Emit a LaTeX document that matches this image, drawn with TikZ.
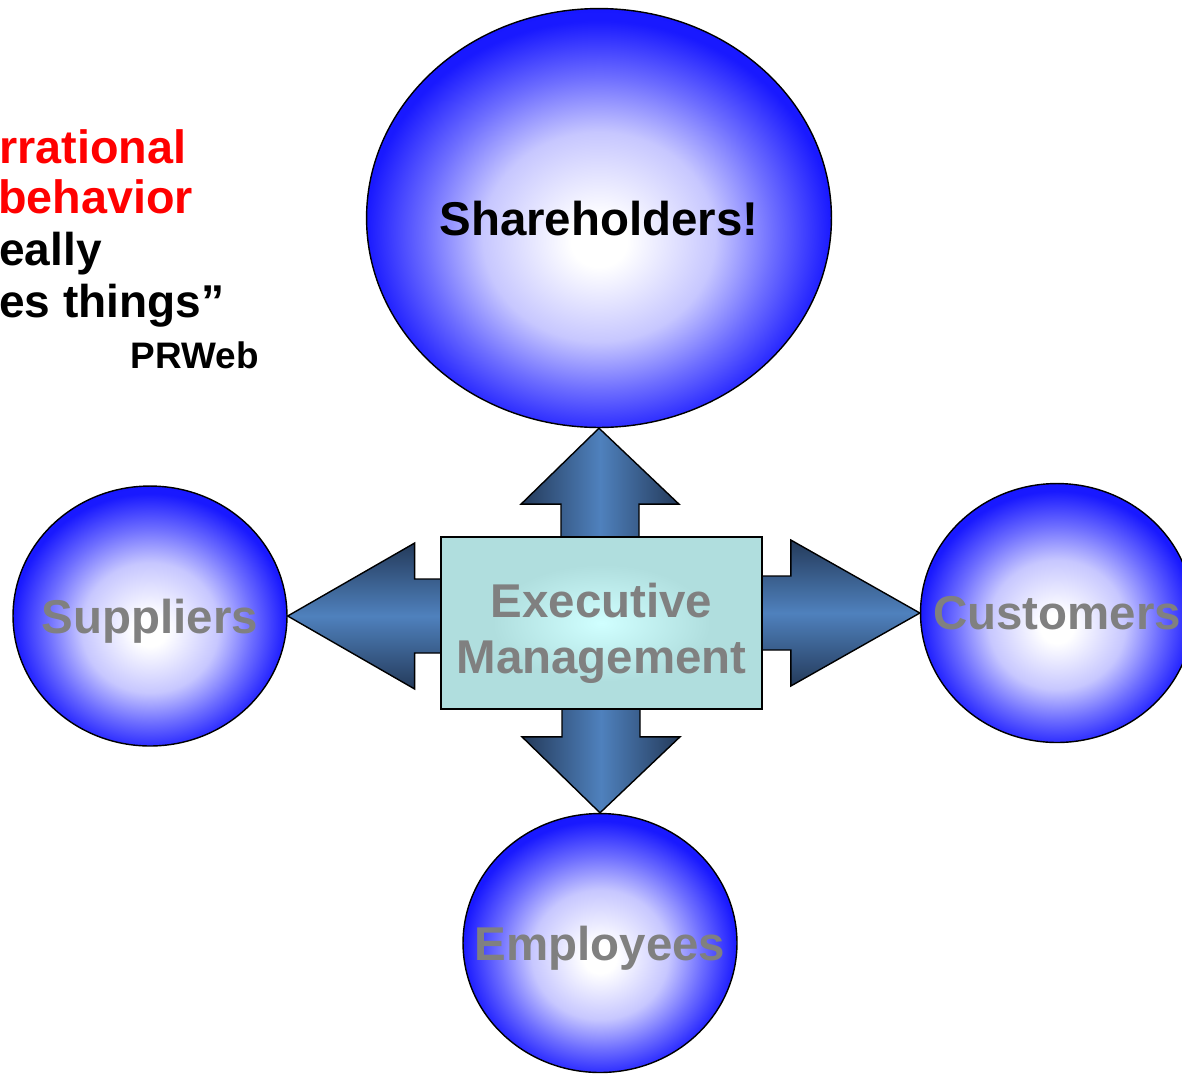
\documentclass[tikz,border=0pt]{standalone}
\usepackage{fontspec}
\setmainfont{Liberation Sans}
\usepackage{tikz}
\usetikzlibrary{shapes.geometric}

\definecolor{arrowdark}{RGB}{36,58,90}
\definecolor{arrowmid}{RGB}{79,129,189}
\definecolor{boxin}{RGB}{208,255,255}
\definecolor{boxout}{RGB}{176,222,222}
\definecolor{labelgray}{RGB}{128,128,128}
\definecolor{quotered}{RGB}{255,0,0}

\pgfdeclareradialshading{bubble}{\pgfpoint{0bp}{-3bp}}{rgb(0bp)=(1,1,1); rgb(3bp)=(1,1,1);
rgb(12.5bp)=(0.78,0.78,1); rgb(18.7bp)=(0.43,0.43,1); rgb(25bp)=(0.1,0.1,1); rgb(50bp)=(0,0,1)}
\pgfdeclareradialshading{glow}{\pgfpoint{0bp}{0bp}}{color(0bp)=(boxin); color(17bp)=(boxout); color(50bp)=(boxout)}

\begin{document}
\begin{tikzpicture}
[x=0.02cm,y=-0.02cm,
party/.style={ellipse,draw=black,line width=0.8pt,shade,shading=bubble,inner sep=0pt},
partytext/.style={text=labelgray,text depth=0pt,font=\fontsize{27}{32}\selectfont\bfseries},
blockh/.style={draw=black,line width=0.8pt,
top color=arrowdark,bottom color=arrowdark,middle color=arrowmid},
blockv/.style={draw=black,line width=0.8pt,
left color=arrowdark,right color=arrowdark,middle color=arrowmid},
quote/.style={anchor=base west,inner sep=0pt,font=\fontsize{26.2}{30}\selectfont\bfseries},
redquote/.style={quote,text=quotered,font=\fontsize{26.6}{30}\selectfont\bfseries}]
\useasboundingbox (0,0) rectangle (1182,1073);

% the quote, cut at the left margin
\node[redquote] (q1) at (-1,163) {rrational};
\node[redquote] (q2) at (-2,213) {behavior};
\node[quote] (q3) at (-1,265) {eally};
\node[quote] (q4) at (-1,317) {es things”};
\node[anchor=base east,inner sep=0pt,font=\fontsize{21}{24}\selectfont\bfseries] (src) at (259,368) {PRWeb};

% stakeholders
\node[party,minimum width=9.3cm,minimum height=8.38cm,
label={[partytext,text=black]center:Shareholders!}] (share) at (599,218) {};
\node[party,minimum width=5.48cm,minimum height=5.2cm,
label={[partytext]center:Suppliers}] (supp) at (150,616) {};
\node[party,minimum width=5.46cm,minimum height=5.18cm,
label={[partytext]center:Customers}] (cust) at (1057,613) {};
\node[party,minimum width=5.48cm,minimum height=5.18cm,
label={[partytext]center:Employees}] (emp) at (600,943) {};

% block arrows
\draw[blockv] (share.south) -- ++(80,76) -- ++(-40,0) -- ++(0,40)
-- ++(-78,0) -- ++(0,-40) -- ++(-40,0) -- cycle;
\draw[blockv] (emp.north) -- ++(80,-76) -- ++(-40,0) -- ++(0,-32)
-- ++(-78,0) -- ++(0,32) -- ++(-40,0) -- cycle;
\draw[blockh] (supp.east) -- ++(127,-73) -- ++(0,36) -- ++(32,0)
-- ++(0,74) -- ++(-32,0) -- ++(0,36) -- cycle;
\draw[blockh] (cust.west) -- ++(-129,-73) -- ++(0,36) -- ++(-32,0)
-- ++(0,74) -- ++(32,0) -- ++(0,36) -- cycle;

% centre box
\node[draw=black,line width=0.8pt,shade,shading=glow,
minimum width=6.42cm,minimum height=3.44cm,
label={[partytext,align=center,yshift=-3pt,
font=\fontsize{27}{31.7}\selectfont\bfseries]center:Executive\\Management}] (exec) at (601.5,623) {};
\end{tikzpicture}
\end{document}
